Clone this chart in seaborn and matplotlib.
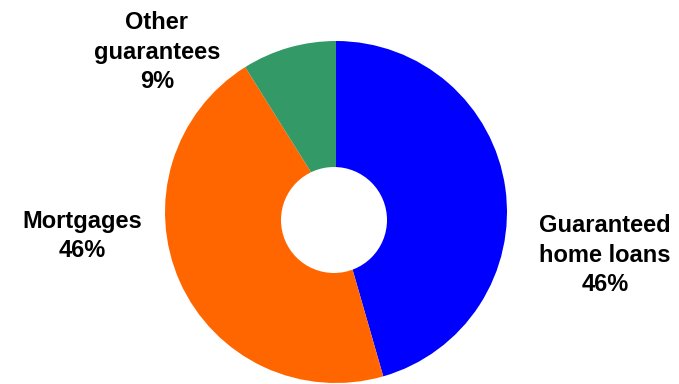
import matplotlib
matplotlib.use("Agg")
import matplotlib.pyplot as plt
from matplotlib.patches import Circle
import seaborn as sns

# Portfolio composition
categories = ["Guaranteed\nhome loans", "Mortgages", "Other\nguarantees"]
shares = [46, 46, 9]
colors = ["#0000FF", "#FF6600", "#339966"]

sns.set_theme(style="white")
plt.rcParams["font.family"] = ["Liberation Sans", "DejaVu Sans"]

W, H = 679, 384
fig = plt.figure(figsize=(W / 100, H / 100), dpi=100)
ax = fig.add_axes([0, 0, 1, 1])

cx, cy, r = 336, H - 212, 171
ax.pie(shares, colors=colors, startangle=90, counterclock=False,
       center=(cx, cy), radius=r, wedgeprops=dict(linewidth=0))
# donut hole
ax.add_patch(Circle((334, H - 220), 53, facecolor="white", edgecolor="none", zorder=5))

label_pos = [(605, 255), (82, 236), (157, 52)]
for name, val, (lx, ly) in zip(categories, shares, label_pos):
    ax.text(lx, H - ly, f"{name}\n{val}%", ha="center", va="center",
            multialignment="center", fontsize=17, fontweight="bold",
            color="black", linespacing=1.38)

ax.set_xlim(0, W)
ax.set_ylim(0, H)
ax.set_aspect("equal")
ax.axis("off")
fig.savefig("out.png", dpi=100, facecolor="white")
